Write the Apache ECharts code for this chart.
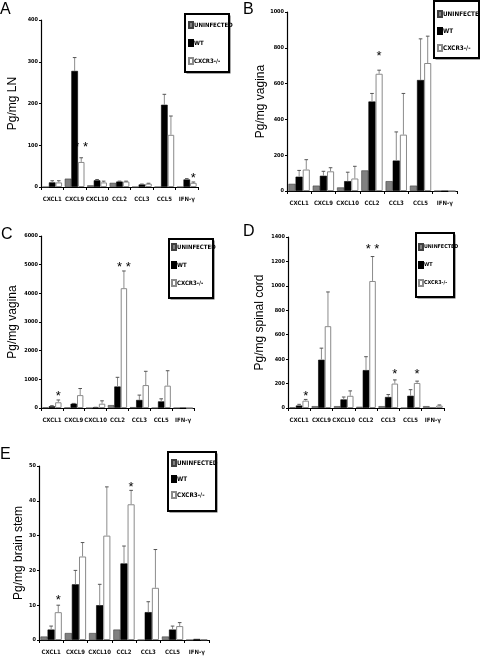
<!DOCTYPE html>
<html><head><meta charset="utf-8">
<script src="https://cdn.jsdelivr.net/npm/echarts@6/dist/echarts.min.js"></script>
<style>html,body{margin:0;padding:0;background:#fff}#c{width:480px;height:661px}</style>
</head><body><div id="c"></div>
<script>
const categories = ['CXCL1','CXCL9','CXCL10','CCL2','CCL3','CCL5','IFN-γ'];
const seriesNames = ['UNINFECTED','WT','CXCR3-/-'];

// Panel A: Pg/mg LN
const uninfA = [0, 20, 4, 10, 0, 0, 0];
const wtA    = [11, 278, 16, 13, 6, 197, 18];
const wtErrA = [15, 310, 18, 14, 7, 222, 20];
const koA    = [11, 60, 11, 13, 8, 125, 10];
const koErrA = [15, 70, 14, 14, 9, 170, 12];
const yMaxA = 400, yStepA = 100;
const starsA = [[1, '* *', 105], [6, '*', 29]];

// Panel B: Pg/mg vagina
const uninfB = [40, 30, 20, 115, 55, 30, 0];
const wtB    = [80, 85, 55, 500, 170, 620, 0];
const wtErrB = [115, 110, 105, 545, 330, 850, 0];
const koB    = [120, 110, 70, 655, 315, 715, 0];
const koErrB = [175, 130, 138, 675, 545, 865, 0];
const yMaxB = 1000, yStepB = 200;
const starsB = [[3, '*', 776]];

// Panel C: Pg/mg vagina
const uninfC = [20, 10, 0, 100, 30, 0, 0];
const wtC    = [60, 150, 20, 750, 280, 230, 0];
const wtErrC = [80, 160, 25, 1070, 450, 320, 0];
const koC    = [200, 450, 150, 4180, 800, 780, 0];
const koErrC = [280, 680, 250, 4780, 1280, 1300, 0];
const yMaxC = 6000, yStepC = 1000;
const starsC = [[0, '*', 558], [3, '* *', 5058]];

// Panel D: Pg/mg spinal cord
const uninfD = [5, 15, 15, 10, 15, 0, 15];
const wtD    = [20, 395, 70, 310, 90, 100, 0];
const wtErrD = [30, 490, 90, 420, 110, 150, 0];
const koD    = [60, 670, 100, 1040, 200, 205, 20];
const koErrD = [70, 950, 140, 1240, 230, 220, 25];
const yMaxD = 1400, yStepD = 200;
const starsD = [[0, '*', 131], [3, '* *', 1334], [4, '*', 311], [5, '*', 311]];

// Panel E: Pg/mg brain stem
const uninfE = [1, 2, 2, 3, 0, 1, 0];
const wtE    = [3, 16, 10, 22, 8, 3, 0.3];
const wtErrE = [4, 20, 16, 27, 11, 4, 0.3];
const koE    = [8, 24, 30, 39, 15, 4, 0.2];
const koErrE = [10, 28, 44, 43, 26, 5, 0.2];
const yMaxE = 50, yStepE = 10;
const starsE = [[0, '*', 12.6], [3, '*', 45]];

const yNames = ['Pg/mg LN', 'Pg/mg vagina', 'Pg/mg vagina', 'Pg/mg spinal cord', 'Pg/mg brain stem'];
const letters = ['A', 'B', 'C', 'D', 'E'];

// layout (positions only)
const grids = [
  {left: 41, top: 20, width: 157, height: 167},
  {left: 287, top: 12, width: 170, height: 179},
  {left: 41, top: 236, width: 153, height: 172},
  {left: 288, top: 237, width: 156, height: 171},
  {left: 39, top: 466, width: 170, height: 174}
];
const nameGaps = [22, 19, 22, 22, 14];
const letterPos = [[0, 2], [243, 2], [1, 227], [243, 224], [0, 447]];
const legendBoxes = [
  {x: 185, y: 14, w: 44, h: 58, top: 21, left: 188, gap: 10, fs: 6},
  {x: 434, y: 1, w: 45, h: 57, top: 10, left: 437, gap: 9, fs: 6.3},
  {x: 169, y: 239, w: 44, h: 59, top: 243, left: 171, gap: 10, fs: 6},
  {x: 416, y: 233, w: 38, h: 64, top: 243, left: 418, gap: 10, fs: 5.3},
  {x: 168, y: 452, w: 48, h: 59, top: 459, left: 171, gap: 8, fs: 6.3}
];

const panels = [
  [uninfA, wtA, wtErrA, koA, koErrA, yMaxA, yStepA, starsA],
  [uninfB, wtB, wtErrB, koB, koErrB, yMaxB, yStepB, starsB],
  [uninfC, wtC, wtErrC, koC, koErrC, yMaxC, yStepC, starsC],
  [uninfD, wtD, wtErrD, koD, koErrD, yMaxD, yStepD, starsD],
  [uninfE, wtE, wtErrE, koE, koErrE, yMaxE, yStepE, starsE]
];

const NARROW = '"DejaVu Sans Condensed", "Liberation Sans Narrow", sans-serif';
const SANS = '"Liberation Sans", Arial, sans-serif';
const CAT_GAP = 0.12;
const barStyles = [
  {color: '#808080', borderColor: '#404040', borderWidth: 0.6},
  {color: '#000000', borderColor: '#000000', borderWidth: 0.6},
  {color: '#ffffff', borderColor: '#8a8a8a', borderWidth: 1}
];

const option = {
  animation: false,
  backgroundColor: '#fff',
  grid: [], xAxis: [], yAxis: [], series: [], legend: [], graphic: []
};

panels.forEach((p, i) => {
  const [u, wt, wtErr, ko, koErr, yMax, yStep, stars] = p;
  option.grid.push(Object.assign({containLabel: false}, grids[i]));
  option.xAxis.push({
    type: 'category', gridIndex: i, data: categories, boundaryGap: true,
    axisLine: {lineStyle: {color: '#000', width: 1.2}},
    axisTick: {show: true, length: 3, lineStyle: {color: '#000'}},
    axisLabel: {fontSize: 6, fontFamily: NARROW, fontWeight: 'bold', color: '#111', margin: 9, interval: 0}
  });
  option.yAxis.push({
    type: 'value', gridIndex: i, min: 0, max: yMax, interval: yStep,
    name: yNames[i], nameLocation: 'middle', nameGap: nameGaps[i],
    nameTextStyle: {fontSize: 12, fontFamily: SANS, color: '#000'},
    axisLine: {show: true, lineStyle: {color: '#000', width: 1.2}},
    axisTick: {show: true, length: 2, lineStyle: {color: '#000'}},
    splitLine: {show: false},
    axisLabel: {fontSize: 5.5, fontFamily: NARROW, fontWeight: 'bold', color: '#000', margin: 3, formatter: v => String(v)}
  });
  [u, wt, ko].forEach((vals, s) => {
    option.series.push({
      type: 'bar', name: seriesNames[s], xAxisIndex: i, yAxisIndex: i,
      data: vals, barGap: '0%', barCategoryGap: (CAT_GAP * 100) + '%',
      itemStyle: barStyles[s], z: 2
    });
  });
  const errData = [];
  wt.forEach((v, k) => { if (wtErr[k] > v) errData.push([k, v, wtErr[k], 1]); });
  ko.forEach((v, k) => { if (koErr[k] > v) errData.push([k, v, koErr[k], 2]); });
  option.series.push({
    type: 'custom', xAxisIndex: i, yAxisIndex: i, z: 3, silent: true,
    encode: {x: 0, y: 2},
    data: errData,
    renderItem: (params, api) => {
      const cat = api.value(0), v = api.value(1), top = api.value(2), si = api.value(3);
      const p0 = api.coord([cat, v]);
      const p1 = api.coord([cat, top]);
      const band = api.size([1, 0])[0];
      const bw = band * (1 - CAT_GAP) / 3;
      const x = p0[0] + (si - 1) * bw;
      return {type: 'group', children: [
        {type: 'line', shape: {x1: x, y1: p0[1], x2: x, y2: p1[1]}, style: {stroke: '#8c8c8c', lineWidth: 1}},
        {type: 'line', shape: {x1: x - 1.8, y1: p1[1], x2: x + 1.8, y2: p1[1]}, style: {stroke: '#555', lineWidth: 1}}
      ]};
    }
  });
  option.series.push({
    type: 'custom', xAxisIndex: i, yAxisIndex: i, z: 4, silent: true,
    encode: {x: 0, y: 1},
    data: stars.map(s => [s[0], s[2]]),
    renderItem: (params, api) => {
      const cat = api.value(0), lvl = api.value(1);
      const pt = api.coord([cat, lvl]);
      const band = api.size([1, 0])[0];
      const bw = band * (1 - CAT_GAP) / 3;
      return {type: 'text', x: pt[0] + bw, y: pt[1] + 4,
        style: {text: stars[params.dataIndex][1], fontSize: 13, fontFamily: SANS, fill: '#000', align: 'center', verticalAlign: 'middle'}};
    }
  });
  const lb = legendBoxes[i];
  option.graphic.push({type: 'rect', shape: {x: lb.x + 1.5, y: lb.y + 1.5, width: lb.w, height: lb.h}, style: {fill: '#555', stroke: null}, z: 10});
  option.graphic.push({type: 'rect', shape: {x: lb.x, y: lb.y, width: lb.w, height: lb.h}, style: {fill: '#fff', stroke: '#000', lineWidth: 2}, z: 11});
  option.legend.push({
    orient: 'vertical', left: lb.left, top: lb.top, padding: 0, itemGap: lb.gap,
    itemWidth: 4, itemHeight: 6, icon: 'rect', z: 20, selectedMode: false,
    data: seriesNames,
    textStyle: {fontSize: lb.fs, fontFamily: NARROW, fontWeight: 'bold', color: '#000', padding: [0, 0, 0, -4], lineHeight: 7}
  });
  option.graphic.push({type: 'text', left: letterPos[i][0], top: letterPos[i][1], z: 12,
    style: {text: letters[i], fontSize: 16, fontFamily: SANS, fill: '#000'}});
});

const chart = echarts.init(document.getElementById('c'), null, {renderer: 'canvas', width: 480, height: 661});
chart.setOption(option);
</script>
</body></html>
